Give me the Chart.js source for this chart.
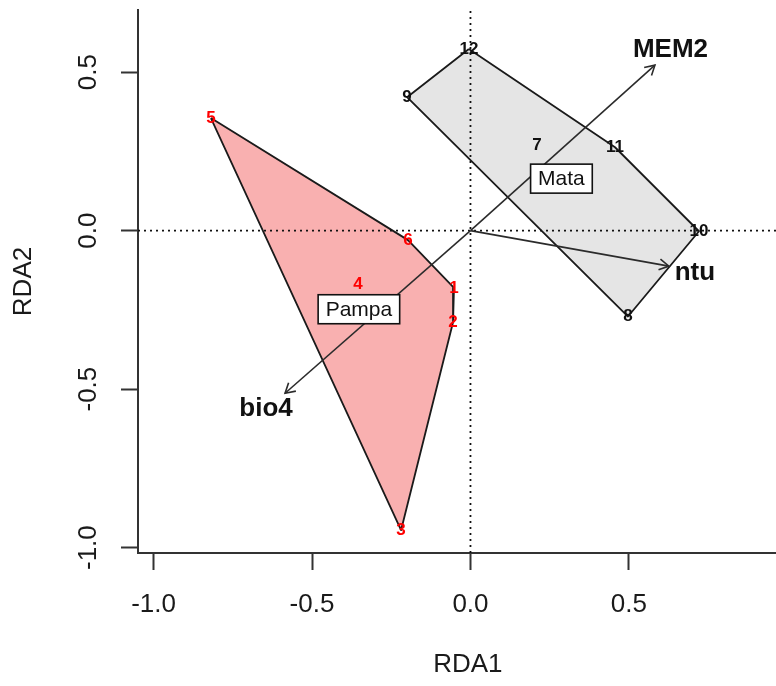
<!DOCTYPE html>
<html>
<head>
<meta charset="utf-8">
<script src="https://cdn.jsdelivr.net/npm/chart.js@4.4.0/dist/chart.umd.min.js"></script>
<style>
  html, body { margin: 0; padding: 0; background: #fff; }
</style>
</head>
<body>
<canvas id="chart" width="776" height="686"></canvas>
<script>
// site scores (RDA1, RDA2)
const siteIds = ['1', '2', '3', '4', '5', '6', '7', '8', '9', '10', '11', '12'];
const siteRDA1 = [-0.052, -0.055, -0.219, -0.355, -0.819, -0.197, 0.210, 0.497, -0.200, 0.721, 0.456, -0.005];
const siteRDA2 = [-0.181, -0.289, -0.945, -0.169, 0.355, -0.030, 0.270, -0.271, 0.421, -0.002, 0.263, 0.573];
const siteGroup = ['Pampa', 'Pampa', 'Pampa', 'Pampa', 'Pampa', 'Pampa', 'Mata', 'Mata', 'Mata', 'Mata', 'Mata', 'Mata'];

// hull vertices, in drawing order
const pampaHull = ['5', '6', '1', '2', '3'];
const mataHull = ['12', '11', '10', '8', '9'];

// group centroid labels
const groupNames = ['Mata', 'Pampa'];
const groupRDA1 = [0.287, -0.352];
const groupRDA2 = [0.164, -0.248];

// biplot arrows
const envNames = ['MEM2', 'ntu', 'bio4'];
const envRDA1 = [0.582, 0.626, -0.585];
const envRDA2 = [0.522, -0.112, -0.513];
const envLabelRDA1 = [0.631, 0.708, -0.645];
const envLabelRDA2 = [0.569, -0.134, -0.563];

const xTicks = [-1.0, -0.5, 0.0, 0.5];
const yTicks = [-1.0, -0.5, 0.0, 0.5];
const xLimits = [-1.049, 0.964];
const yLimits = [-1.017, 0.696];

const FONT = '"Liberation Sans", Arial, Helvetica, sans-serif';
const INK = '#1a1a1a';

const pt = id => {
    const i = siteIds.indexOf(id);
    return { x: siteRDA1[i], y: siteRDA2[i] };
};
const ring = ids => ids.concat(ids[0]).map(pt);

const base = { showLine: true, pointRadius: 0, pointHoverRadius: 0, fill: false };

const datasets = [];
envNames.forEach((name, i) => {
    datasets.push(Object.assign({}, base, {
        label: name,
        data: [{ x: 0, y: 0 }, { x: envRDA1[i], y: envRDA2[i] }],
        borderColor: '#2b2b2b',
        borderWidth: 1.6,
        arrow: true
    }));
});
datasets.push(Object.assign({}, base, {
    label: 'zero-x',
    data: [{ x: xLimits[0], y: 0 }, { x: xLimits[1], y: 0 }],
    borderColor: '#111', borderWidth: 1.8, borderDash: [2, 4]
}));
datasets.push(Object.assign({}, base, {
    label: 'zero-y',
    data: [{ x: 0, y: yLimits[0] }, { x: 0, y: yLimits[1] }],
    borderColor: '#111', borderWidth: 1.8, borderDash: [2, 4]
}));
datasets.push(Object.assign({}, base, {
    label: 'Mata',
    data: ring(mataHull),
    borderColor: INK, borderWidth: 1.8, borderJoinStyle: 'round',
    hullFill: '#e5e5e5'
}));
datasets.push(Object.assign({}, base, {
    label: 'Pampa',
    data: ring(pampaHull),
    borderColor: INK, borderWidth: 1.8, borderJoinStyle: 'round',
    hullFill: '#f9b0b0'
}));

const overlay = {
    id: 'overlay',
    beforeDatasetsDraw(chart) {
        const ctx = chart.ctx;
        chart.data.datasets.forEach((ds, i) => {
            if (!ds.hullFill) return;
            const pts = chart.getDatasetMeta(i).data;
            ctx.save();
            ctx.beginPath();
            pts.forEach((p, k) => k ? ctx.lineTo(p.x, p.y) : ctx.moveTo(p.x, p.y));
            ctx.closePath();
            ctx.fillStyle = ds.hullFill;
            ctx.fill();
            ctx.restore();
        });
    },
    afterDatasetsDraw(chart) {
        const ctx = chart.ctx;
        const xs = chart.scales.x;
        const ys = chart.scales.y;

        // arrow heads
        chart.data.datasets.forEach((ds, i) => {
            if (!ds.arrow) return;
            const [a, b] = chart.getDatasetMeta(i).data;
            const ang = Math.atan2(b.y - a.y, b.x - a.x);
            const len = 11, spread = Math.PI / 6;
            ctx.save();
            ctx.strokeStyle = ds.borderColor;
            ctx.lineWidth = ds.borderWidth;
            ctx.beginPath();
            ctx.moveTo(b.x - len * Math.cos(ang - spread), b.y - len * Math.sin(ang - spread));
            ctx.lineTo(b.x, b.y);
            ctx.lineTo(b.x - len * Math.cos(ang + spread), b.y - len * Math.sin(ang + spread));
            ctx.stroke();
            ctx.restore();
        });

        ctx.save();
        ctx.textAlign = 'center';
        ctx.textBaseline = 'middle';

        // site numbers
        ctx.font = 'bold 17px ' + FONT;
        siteIds.forEach((id, i) => {
            ctx.fillStyle = siteGroup[i] === 'Pampa' ? '#ff0000' : '#111';
            ctx.fillText(id, xs.getPixelForValue(siteRDA1[i]), ys.getPixelForValue(siteRDA2[i]));
        });

        // arrow labels
        ctx.font = 'bold 26px ' + FONT;
        ctx.fillStyle = '#111';
        envNames.forEach((name, i) => {
            ctx.fillText(name, xs.getPixelForValue(envLabelRDA1[i]), ys.getPixelForValue(envLabelRDA2[i]));
        });

        // boxed group labels
        ctx.font = '21px ' + FONT;
        groupNames.forEach((g, i) => {
            const cx = xs.getPixelForValue(groupRDA1[i]);
            const cy = ys.getPixelForValue(groupRDA2[i]);
            const w = ctx.measureText(g).width + 15, h = 29;
            ctx.fillStyle = '#fff';
            ctx.fillRect(cx - w / 2, cy - h / 2, w, h);
            ctx.strokeStyle = '#111';
            ctx.lineWidth = 1.6;
            ctx.strokeRect(cx - w / 2, cy - h / 2, w, h);
            ctx.fillStyle = '#111';
            ctx.fillText(g, cx, cy + 1);
        });
        ctx.restore();
    }
};

new Chart(document.querySelector('#chart'), {
    type: 'scatter',
    data: { datasets: datasets },
    options: {
        responsive: false,
        animation: false,
        layout: { padding: { top: 10, right: 0, bottom: 0, left: 0 } },
        plugins: { legend: { display: false }, tooltip: { enabled: false } },
        events: [],
        scales: {
            x: {
                type: 'linear',
                min: xLimits[0],
                max: xLimits[1],
                afterBuildTicks: s => { s.ticks = xTicks.map(v => ({ value: v })); },
                afterFit: s => { s.height = 133; s.paddingLeft = 0; s.paddingRight = 0; },
                grid: { drawOnChartArea: false, drawTicks: true, tickLength: 17, color: '#333', tickWidth: 2 },
                border: { display: true, color: '#333', width: 2 },
                ticks: {
                    font: { family: FONT, size: 26 }, color: INK, padding: 19,
                    maxRotation: 0, autoSkip: false,
                    callback: v => Number(v).toFixed(1)
                },
                // leading spaces nudge the centred title right, like R's wider plot region
                title: { display: true, text: '   RDA1', font: { family: FONT, size: 26 }, color: INK, padding: { top: 0, bottom: 6 } }
            },
            y: {
                type: 'linear',
                position: 'left',
                min: yLimits[0],
                max: yLimits[1],
                afterBuildTicks: s => { s.ticks = yTicks.map(v => ({ value: v })); },
                afterFit: s => { s.width = 138; s.paddingTop = 0; s.paddingBottom = 0; },
                grid: { drawOnChartArea: false, drawTicks: true, tickLength: 17, color: '#333', tickWidth: 2 },
                border: { display: true, color: '#333', width: 2 },
                ticks: {
                    font: { family: FONT, size: 26 }, color: INK, padding: 10,
                    minRotation: 90, maxRotation: 90, crossAlign: 'center', autoSkip: false,
                    callback: v => Number(v).toFixed(1)
                },
                title: { display: true, text: 'RDA2', font: { family: FONT, size: 26 }, color: INK, padding: { top: 8, bottom: 0 } }
            }
        }
    },
    plugins: [overlay]
});
</script>
</body>
</html>
